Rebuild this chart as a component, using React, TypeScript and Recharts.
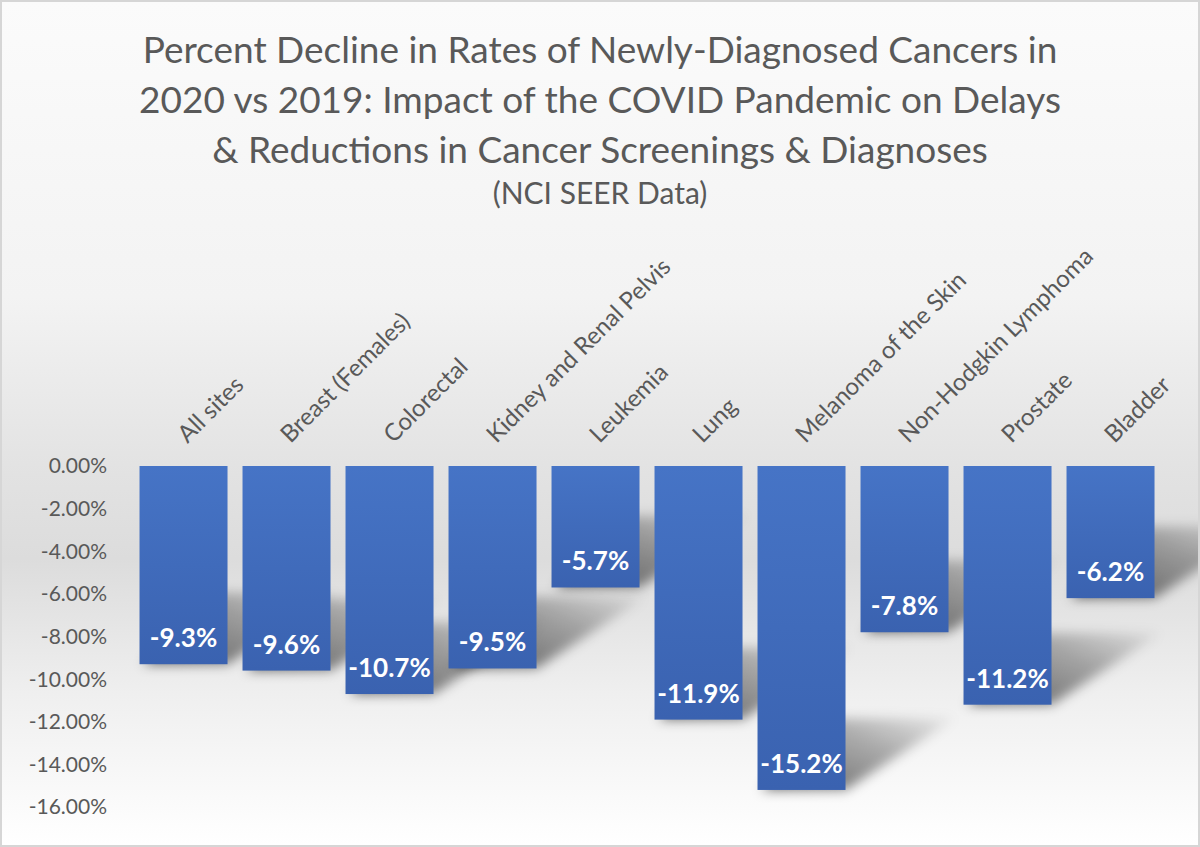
import React from 'react'
import { BarChart, Bar, XAxis, YAxis, LabelList } from 'recharts'

const categories = [
  'All sites',
  'Breast (Females)',
  'Colorectal',
  'Kidney and Renal Pelvis',
  'Leukemia',
  'Lung',
  'Melanoma of the Skin',
  'Non-Hodgkin Lymphoma',
  'Prostate',
  'Bladder',
]
const declines = [-9.3, -9.6, -10.7, -9.5, -5.7, -11.9, -15.2, -7.8, -11.2, -6.2]
const yTicks = [0, -2, -4, -6, -8, -10, -12, -14, -16]
const titleLines = [
  'Percent Decline in Rates of Newly-Diagnosed Cancers in',
  '2020 vs 2019: Impact of the COVID Pandemic on Delays',
  '& Reductions in Cancer Screenings & Diagnoses',
]
const subtitle = '(NCI SEER Data)'

const data = categories.map((name, i) => ({ name, value: declines[i] }))

const FONT = 'Lato, "Open Sans", sans-serif'
const GREY = '#595959'

// rotated category label, starts at bar centre and runs up-right
const CategoryTick = (props: any) => {
  const { x, y, payload } = props
  return (
    <g transform={`translate(${x + 4},${y})`}>
      <text transform="rotate(-45)" textAnchor="start" fill={GREY} fontSize={24} fontFamily={FONT}>
        {payload.value}
      </text>
    </g>
  )
}

// bar with a soft, slanted floor shadow behind it
const ShadowBar = (props: any) => {
  const { x, y, width, height } = props
  const top = Math.min(y, y + height)
  const bottom = Math.max(y, y + height)
  const h = bottom - top
  const dx = 110
  const dy = 72
  const shadow = `M${x + 4},${bottom} L${x + width},${bottom} L${x + width + dx},${bottom - dy} L${x + 4 + dx * 0.6},${bottom - dy} Z`
  return (
    <g>
      <path d={shadow} fill="url(#shadowFade)" filter="url(#soft)" />
      <rect x={x} y={top} width={width} height={h} fill="url(#barFill)" />
    </g>
  )
}

const BarValue = (props: any) => {
  const { x, y, width, height, value } = props
  const bottom = Math.max(y, y + height)
  return (
    <text
      x={x + width / 2}
      y={bottom - 27}
      textAnchor="middle"
      dominantBaseline="central"
      fill="#ffffff"
      fontSize={26}
      fontWeight={700}
      fontFamily={FONT}
    >
      {`${value.toFixed(1)}%`}
    </text>
  )
}

export default function App() {
  return (
    <div
      style={{
        position: 'absolute',
        left: 0,
        top: 0,
        width: 1200,
        height: 847,
        boxSizing: 'border-box',
        border: '2px solid #d6d6d6',
        background:
          'linear-gradient(to bottom, #fbfbfb 0%, #f3f3f3 35%, #e2e2e2 56%, #dcdcdc 66%, #efefef 82%, #ffffff 100%)',
        fontFamily: FONT,
        color: GREY,
        overflow: 'hidden',
      }}
    >
      <div style={{ position: 'absolute', left: 0, top: 22, width: 1196, textAlign: 'center' }}>
        {titleLines.map((line) => (
          <div key={line} style={{ fontSize: 37, lineHeight: '50px', whiteSpace: 'nowrap' }}>
            {line}
          </div>
        ))}
        <div style={{ fontSize: 30, lineHeight: '36px', marginTop: 0 }}>{subtitle}</div>
      </div>
      <div style={{ position: 'absolute', left: -2, top: -2 }}>
        <BarChart
          width={1200}
          height={847}
          data={data}
          margin={{ top: 226, right: 38, bottom: 40, left: 0 }}
          barCategoryGap="7.3%"
        >
          <defs>
            <linearGradient id="barFill" x1="0" y1="0" x2="0" y2="1">
              <stop offset="0%" stopColor="#4674c6" />
              <stop offset="100%" stopColor="#3a62b0" />
            </linearGradient>
            <linearGradient id="shadowFade" x1="0" y1="1" x2="1" y2="0">
              <stop offset="0%" stopColor="#000000" stopOpacity={0.6} />
              <stop offset="60%" stopColor="#000000" stopOpacity={0.3} />
              <stop offset="100%" stopColor="#000000" stopOpacity={0.03} />
            </linearGradient>
            <filter id="soft" x="-50%" y="-50%" width="200%" height="200%">
              <feGaussianBlur stdDeviation="6" />
            </filter>
          </defs>
          <XAxis
            dataKey="name"
            orientation="top"
            height={240}
            axisLine={false}
            tickLine={false}
            tickSize={0}
            tickMargin={22}
            interval={0}
            tick={<CategoryTick />}
          />
          <YAxis
            domain={[-16, 0]}
            ticks={yTicks}
            width={132}
            axisLine={false}
            tickLine={false}
            tickSize={0}
            tickMargin={25}
            tick={{ fill: GREY, fontSize: 21, fontFamily: FONT }}
            tickFormatter={(v: number) => `${v.toFixed(2)}%`}
          />
          <Bar dataKey="value" shape={<ShadowBar />} isAnimationActive={false}>
            <LabelList dataKey="value" content={<BarValue />} />
          </Bar>
        </BarChart>
      </div>
    </div>
  )
}
